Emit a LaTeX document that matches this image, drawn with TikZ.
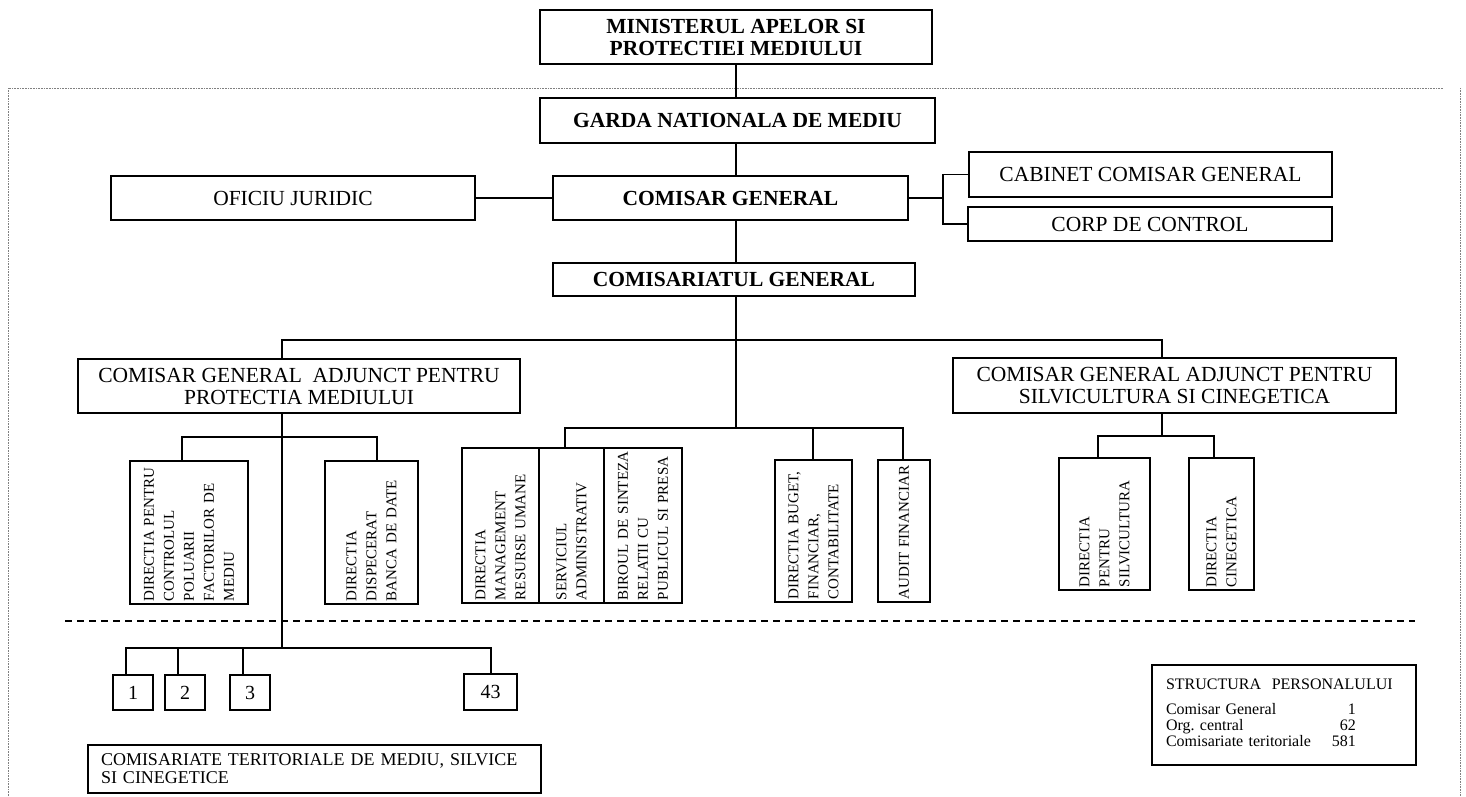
\documentclass[tikz,border=0pt]{standalone}
\usepackage{fontspec}
\setmainfont{Liberation Serif}
\usepackage{tikz}

\begin{document}
\begin{tikzpicture}[x=1pt,y=-1pt]
  \tikzset{BoxStyle/.style = {
    shape         = rectangle,
    draw          = black,
    fill          = white,
    line width    = 1.2pt,
    text          = black,
    inner sep     = 2pt,
    outer sep     = 0pt,
    align         = center,
    font          = \fontsize{21.5}{22}\selectfont
    }
  }
  \tikzset{HeadStyle/.style = {
    BoxStyle,
    font          = \fontsize{21.5}{22}\selectfont\bfseries
    }
  }
  \tikzset{VBoxStyle/.style = {
    BoxStyle,
    rotate        = 90,
    align         = left,
    inner xsep    = 3pt,
    font          = \fontsize{15}{20}\selectfont
    }
  }
  \tikzset{NumStyle/.style = {
    BoxStyle,
    font          = \fontsize{20}{20}\selectfont
    }
  }
  \tikzset{EdgeStyle/.style = {
    draw          = black,
    line width    = 1.2pt
    }
  }
  \tikzset{DashStyle/.style = {
    draw          = black,
    line width    = 1.2pt,
    dash pattern  = on 7pt off 5pt
    }
  }
  \tikzset{FrameStyle/.style = {
    draw          = gray,
    line width    = 0.6pt,
    densely dotted
    }
  }

  \useasboundingbox (0,0) rectangle (1466,796);

  \draw[FrameStyle] (8,796) -- (8,88) -- (1443,88);
  \draw[FrameStyle] (1460,88) -- (1460,796);
  \draw[DashStyle] (65,621) -- (1415,621);

	\node[HeadStyle, minimum width=392pt, minimum height=54pt](Min) at (736, 37) {MINISTERUL APELOR SI\\PROTECTIEI MEDIULUI};
	\node[HeadStyle, minimum width=395pt, minimum height=45pt](Garda) at (737.5, 120.5) {GARDA NATIONALA DE MEDIU};
	\node[HeadStyle, minimum width=355pt, minimum height=44pt](ComGen) at (730.5, 198) {COMISAR GENERAL};
	\node[BoxStyle, minimum width=364pt, minimum height=44pt](Oficiu) at (293, 198) {OFICIU JURIDIC};
	\node[BoxStyle, minimum width=363pt, minimum height=45pt](Cabinet) at (1150.5, 174.5) {CABINET COMISAR GENERAL};
	\node[BoxStyle, minimum width=364pt, minimum height=34pt](Corp) at (1150, 224) {CORP DE CONTROL};
	\node[HeadStyle, minimum width=362pt, minimum height=33pt](ComSar) at (734, 279.5) {COMISARIATUL GENERAL};
	\node[BoxStyle, minimum width=442pt, minimum height=54pt](AdjPM) at (299, 386) {COMISAR GENERAL\ \ ADJUNCT PENTRU\\PROTECTIA MEDIULUI};
	\node[BoxStyle, minimum width=443pt, minimum height=55pt](AdjSC) at (1174.5, 385.5) {COMISAR GENERAL ADJUNCT PENTRU\\SILVICULTURA SI CINEGETICA};

	\node[VBoxStyle, minimum width=143pt, minimum height=118pt, text width=137pt](DirPol) at (189, 532.5) {DIRECTIA PENTRU\\CONTROLUL\\POLUARII\\FACTORILOR DE\\MEDIU};
	\node[VBoxStyle, minimum width=143pt, minimum height=93pt, text width=137pt](DirDisp) at (371.5, 532.5) {DIRECTIA\\DISPECERAT\\BANCA DE DATE};
	\node[VBoxStyle, minimum width=155pt, minimum height=77pt, text width=149pt](DirRU) at (500.5, 525.5) {DIRECTIA\\MANAGEMENT\\RESURSE UMANE};
	\node[VBoxStyle, minimum width=155pt, minimum height=65pt, text width=149pt](ServAdm) at (571.5, 525.5) {SERVICIUL\\ADMINISTRATIV};
	\node[VBoxStyle, minimum width=155pt, minimum height=78pt, text width=149pt](BirSint) at (643, 525.5) {BIROUL DE SINTEZA\\RELATII CU\\PUBLICUL SI PRESA};
	\node[VBoxStyle, minimum width=142pt, minimum height=77pt, text width=136pt](DirBug) at (813.5, 531) {DIRECTIA BUGET,\\FINANCIAR,\\CONTABILITATE};
	\node[VBoxStyle, minimum width=142pt, minimum height=52pt, text width=136pt](Audit) at (904, 531) {AUDIT FINANCIAR};
	\node[VBoxStyle, minimum width=132pt, minimum height=91pt, text width=126pt](DirSilv) at (1104.5, 524) {DIRECTIA\\PENTRU\\SILVICULTURA};
	\node[VBoxStyle, minimum width=132pt, minimum height=65pt, text width=126pt](DirCin) at (1221.5, 524) {DIRECTIA\\CINEGETICA};

	\node[NumStyle, minimum width=40pt, minimum height=35pt](T1) at (133, 692.5) {1};
	\node[NumStyle, minimum width=40pt, minimum height=35pt](T2) at (185, 692.5) {2};
	\node[NumStyle, minimum width=40pt, minimum height=35pt](T3) at (250, 692.5) {3};
	\node[NumStyle, minimum width=53pt, minimum height=36pt](T43) at (490.5, 692) {43};
	\node[BoxStyle, align=left, text width=427pt, inner xsep=13pt, minimum height=48pt, font=\fontsize{18}{18}\selectfont](ComTer) at (314.5, 769) {COMISARIATE TERITORIALE DE MEDIU, SILVICE\\SI CINEGETICE};
	\node[BoxStyle, align=left, text width=236pt, inner xsep=14pt, minimum height=100pt, font=\fontsize{16}{16}\selectfont](Struct) at (1284, 715) {STRUCTURA\ \ PERSONALULUI\\[12pt]\begin{tabular}{@{}l@{\hspace{21pt}}r@{}}Comisar General & 1\\ Org.\ central & 62\\ Comisariate teritoriale & 581\end{tabular}};

	\coordinate (CabJ) at (943, 198);
	\coordinate (MainL) at (282, 340);
	\coordinate (MainR) at (1162, 340);
	\coordinate (MidJ) at (736, 428);
	\coordinate (MidL) at (565, 428);
	\coordinate (MidC) at (813, 428);
	\coordinate (MidR) at (903, 428);
	\coordinate (PmL) at (182, 437);
	\coordinate (PmR) at (377, 437);
	\coordinate (ScJ) at (1162, 436);
	\coordinate (ScL) at (1098, 436);
	\coordinate (ScR) at (1214, 436);
	\coordinate (TerJ) at (282, 648);
	\coordinate (TerA) at (126, 648);
	\coordinate (TerB) at (178, 648);
	\coordinate (TerC) at (243, 648);
	\coordinate (TerD) at (491, 648);

	\draw[EdgeStyle](Min.south) -- (Garda.north -| Min.south);
	\draw[EdgeStyle](Garda.south -| Min.south) -- (ComGen.north -| Min.south);
	\draw[EdgeStyle](Oficiu.east) -- (ComGen.west);
	\draw[EdgeStyle](ComGen.east) -- (CabJ);
	\draw[EdgeStyle](Cabinet.west) -| (CabJ) |- (Corp.west);
	\draw[EdgeStyle](ComGen.south -| Min.south) -- (ComSar.north -| Min.south);
	\draw[EdgeStyle](ComSar.south -| Min.south) -- (MidJ);
	\draw[EdgeStyle](AdjPM.north -| MainL) -- (MainL) -- (MainR) -- (AdjSC.north -| MainR);
	\draw[EdgeStyle](AdjPM.south -| MainL) -- (TerJ);
	\draw[EdgeStyle](DirPol.east -| PmL) -- (PmL) -- (PmR) -- (DirDisp.east -| PmR);
	\draw[EdgeStyle](ServAdm.east -| MidL) -- (MidL) -- (MidR) -- (Audit.east -| MidR);
	\draw[EdgeStyle](MidC) -- (DirBug.east -| MidC);
	\draw[EdgeStyle](AdjSC.south -| ScJ) -- (ScJ);
	\draw[EdgeStyle](DirSilv.east -| ScL) -- (ScL) -- (ScR) -- (DirCin.east -| ScR);
	\draw[EdgeStyle](T1.north -| TerA) -- (TerA) -- (TerD) -- (T43.north -| TerD);
	\draw[EdgeStyle](TerB) -- (T2.north -| TerB);
	\draw[EdgeStyle](TerC) -- (T3.north -| TerC);

\end{tikzpicture}
\end{document}
